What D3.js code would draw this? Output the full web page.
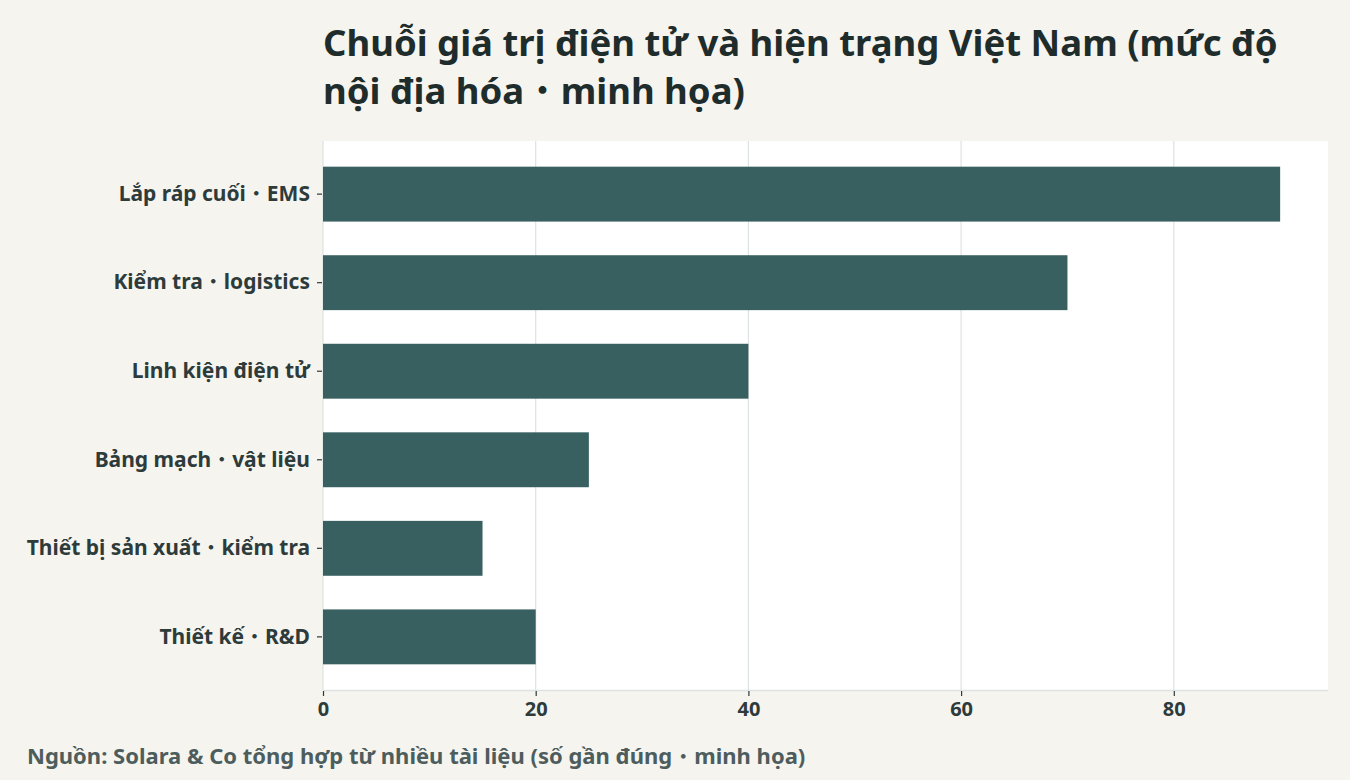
<!DOCTYPE html>
<html>
<head>
<meta charset="utf-8">
<script src="https://cdn.jsdelivr.net/npm/d3@7"></script>
<style>
  body { margin: 0; background: #f5f4ef; }
  svg { display: block; font-family: "Noto Sans", "Noto Sans CJK SC", sans-serif; }
</style>
</head>
<body>
<div id="chart"></div>
<script>
// stages of the electronics value chain, top to bottom
var stages = ["Lắp ráp cuối・EMS", "Kiểm tra・logistics", "Linh kiện điện tử",
              "Bảng mạch・vật liệu", "Thiết bị sản xuất・kiểm tra", "Thiết kế・R&D"]
// localisation level (illustrative)
var levels = [90, 70, 40, 25, 15, 20]
var xTicks = [0, 20, 40, 60, 80]
var titleLines = ["Chuỗi giá trị điện tử và hiện trạng Việt Nam (mức độ",
                  "nội địa hóa・minh họa)"]
var caption = "Nguồn: Solara & Co tổng hợp từ nhiều tài liệu (số gần đúng・minh họa)"

var W = 1350, H = 780
var margin = {top: 141, right: 22, bottom: 90, left: 323}
var pw = W - margin.left - margin.right
var ph = H - margin.top - margin.bottom

// write a string into a text node, the fullwidth dot taken from the CJK font
function dotText(sel, str) {
    sel.text(null)
    var parts = str.split("・")
    parts.forEach(function (p, i) {
        if (i > 0) {
            sel.append("tspan")
                .attr("font-family", "Noto Sans CJK SC")
                .attr("font-weight", 400)
                .text("・")
        }
        sel.append("tspan").text(p)
    })
}

var svg = d3.select("#chart").append("svg")
    .attr("width", W)
    .attr("height", H)

svg.append("rect").attr("width", W).attr("height", H).attr("fill", "#f5f4ef")

// title (two lines, a bit more room so the accents don't touch)
svg.append("g").selectAll("text")
    .data(titleLines)
    .enter()
    .append("text")
    .attr("x", margin.left)
    .attr("y", function (d, i) { return 56 + i * 48 })
    .attr("font-size", 36.5)
    .attr("font-weight", 700)
    .attr("fill", "#1f2c2c")
    .each(function (d) { dotText(d3.select(this), d) })

var g = svg.append("g").attr("transform", "translate(" + margin.left + "," + margin.top + ")")

// max 90 with 5% headroom on the right
var x = d3.scaleLinear().domain([0, 90 * 1.05]).range([0, pw])
var y = d3.scaleBand().domain(stages).range([0, ph]).paddingInner(0.38).paddingOuter(0.29)

g.append("rect").attr("width", pw).attr("height", ph).attr("fill", "#ffffff")

// vertical grid
g.selectAll(".grid")
    .data(xTicks)
    .enter()
    .append("line")
    .attr("class", "grid")
    .attr("x1", function (d) { return x(d) })
    .attr("x2", function (d) { return x(d) })
    .attr("y1", 0)
    .attr("y2", ph)
    .attr("stroke", "#dde3e2")
    .attr("stroke-width", 1.2)

g.selectAll(".bar")
    .data(stages)
    .enter()
    .append("rect")
    .attr("class", "bar")
    .attr("x", x(0))
    .attr("y", function (d) { return y(d) })
    .attr("width", function (d, i) { return x(levels[i]) - x(0) })
    .attr("height", y.bandwidth())
    .attr("fill", "#386060")

// bottom axis line
g.append("line")
    .attr("x1", 0).attr("x2", pw)
    .attr("y1", ph + 0.5).attr("y2", ph + 0.5)
    .attr("stroke", "#dde3e2")
    .attr("stroke-width", 1.5)

var xAxis = g.append("g")
    .attr("transform", "translate(0," + (ph + 1) + ")")
    .call(d3.axisBottom(x).tickValues(xTicks).tickSize(5).tickPadding(6))
xAxis.select(".domain").remove()
xAxis.selectAll("line").attr("stroke", "#2e3b3b").attr("stroke-width", 1.2)
xAxis.selectAll("text")
    .attr("font-family", "Noto Sans")
    .attr("font-size", 20)
    .attr("font-weight", 700)
    .attr("fill", "#2e3b3b")

var yAxis = g.append("g")
    .call(d3.axisLeft(y).tickSize(5).tickPadding(6))
yAxis.select(".domain").remove()
yAxis.selectAll("line").attr("stroke", "#2e3b3b").attr("stroke-width", 1.2).attr("transform", "translate(-1,0)")
yAxis.selectAll("text")
    .attr("font-family", "Noto Sans")
    .attr("font-size", 21)
    .attr("font-weight", 700)
    .attr("fill", "#2e3b3b")
    .attr("dx", -2)
    .each(function (d) { dotText(d3.select(this), d) })

svg.append("text")
    .attr("x", 27)
    .attr("y", 764)
    .attr("font-size", 22)
    .attr("font-weight", 700)
    .attr("fill", "#4d5d5d")
    .each(function () { dotText(d3.select(this), caption) })
</script>
</body>
</html>
